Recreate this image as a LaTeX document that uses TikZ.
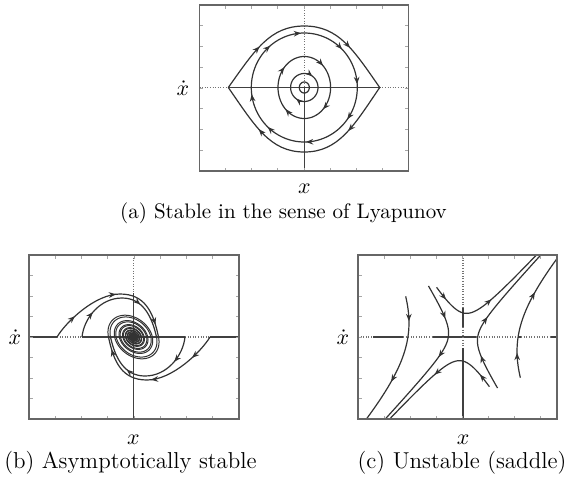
\documentclass[tikz,border=0pt]{standalone}
\usetikzlibrary{arrows.meta,decorations.markings}
\begin{document}
\begin{tikzpicture}[x=0.5pt,y=-0.5pt,
  traj/.style={draw=black!80, line width=0.6pt},
  spir/.style={draw=black!80, line width=0.5pt},
  frame/.style={draw=black!60, line width=0.8pt},
  tickmark/.style={draw=black!35, line width=0.4pt},
  axsolid/.style={draw=black!75, line width=0.6pt},
  axdot/.style={draw=black!55, line width=0.6pt, dash pattern=on 0.5pt off 0.8pt},
  arrat/.style={postaction={decorate, decoration={markings, mark=at position #1 with {\arrow{Stealth[length=3.6pt,width=2.8pt]}}}}},
  lbl/.style={inner sep=0pt, font=\fontsize{10.5}{12}\selectfont},
  capa/.style={inner sep=0pt, font=\fontsize{10.5}{12}\selectfont},
  capb/.style={inner sep=0pt, font=\fontsize{11.5}{13}\selectfont},
]
\useasboundingbox (0,0) rectangle (566,477);

% ================= panel (a) =================
\draw[axdot] (199.5,87.5) -- (228.3,87.5);
\draw[axsolid] (228.3,87.5) -- (379.7,87.5);
\draw[axdot] (379.7,87.5) -- (408.5,87.5);
\draw[axdot] (304.3,5) -- (304.3,87.5);
\draw[axsolid] (304.3,87.5) -- (304.3,171);

\draw[traj, arrat=0.125, arrat=0.375, arrat=0.625, arrat=0.875]
  (228.3,87.5) .. controls (255,50) and (270,26) .. (304.3,26)
  .. controls (338.6,26) and (353.6,50) .. (379.7,87.5)
  .. controls (353.6,126) and (338.6,152) .. (304.3,152)
  .. controls (270,152) and (255,126) .. (228.3,87.5);
\draw[traj, arrat=0.14, arrat=0.24, arrat=0.375, arrat=0.49, arrat=0.6, arrat=0.745, arrat=0.87, arrat=0.98]
  plot[domain=180:540, samples=121] ({304.3+53*cos(\x)},{87.5+54.5*sin(\x)});
\draw[traj, arrat=0.12, arrat=0.37, arrat=0.63, arrat=0.87]
  plot[domain=180:540, samples=91] ({304.3+26.3*cos(\x)},{87.5+31*sin(\x)});
\draw[traj, arrat=0.35, arrat=0.85]
  plot[domain=180:540, samples=61] ({304.3+13.7*cos(\x)},{87.5+14*sin(\x)});
\draw[traj]
  plot[domain=180:540, samples=41] ({304.3+5*cos(\x)},{87.5+5.5*sin(\x)});

\foreach \i in {1,...,7} {
  \draw[tickmark] ({199.5+\i*26.125},5) -- ++(0,3.5);
  \draw[tickmark] ({199.5+\i*26.125},171) -- ++(0,-3.5);
  \draw[tickmark] (199.5,{5+\i*20.75}) -- ++(3.5,0);
  \draw[tickmark] (408.5,{5+\i*20.75}) -- ++(-3.5,0);
}
\draw[frame] (199.5,5) rectangle (408.5,171);

\node[lbl] (ya) at (183,88) {$\dot{x}$};
\node[lbl] (xa) at (304.3,189) {$x$};
\node[capa] (capa) at (283.5,213) {(a) Stable in the sense of Lyapunov};

% ================= panel (b) =================
\draw[axsolid] (29,337) -- (57,337);
\draw[axdot] (57,337) -- (82,337);
\draw[axsolid] (82,337) -- (185,337);
\draw[axdot] (185,337) -- (210,337);
\draw[axsolid] (210,337) -- (239,337);
\draw[axdot] (133.5,255) -- (133.5,293);
\draw[axsolid] (133.5,293) -- (133.5,419);

% trajectories from the left
\draw[traj, arrat=0.35, arrat=0.95] (57,337) .. controls (66,322) and (95,294) .. (120,294);
\draw[traj, arrat=0.8] (120,294) .. controls (145,294) and (153.3,312) .. (158.5,337);
\draw[spir] plot[domain=3.1416:46, samples=800, variable=\t]
  ({133.5+25*exp(-0.09*(\t-3.1416))*(-cos(\t r)-0.3*sin(\t r))},{337-25*exp(-0.09*(\t-3.1416))*sin(\t r)});
\draw[traj, arrat=0.45] (82,337) .. controls (84,318) and (100,298) .. (122,298);
\draw[traj, arrat=0.35] (122,298) .. controls (142,298) and (151.7,315) .. (156.5,337);
\draw[spir] plot[domain=3.1416:46, samples=800, variable=\t]
  ({133.5+23*exp(-0.09*(\t-3.1416))*(-cos(\t r)-0.3*sin(\t r))},{337-23*exp(-0.09*(\t-3.1416))*sin(\t r)});
% trajectories from the right
\draw[traj, arrat=0.35, arrat=0.95] (210,337) .. controls (201,352) and (172,380) .. (147,380);
\draw[traj, arrat=0.8] (147,380) .. controls (122,380) and (113.7,362) .. (108.5,337);
\draw[spir] plot[domain=3.1416:46, samples=800, variable=\t]
  ({133.5+25*exp(-0.09*(\t-3.1416))*(cos(\t r)+0.3*sin(\t r))},{337+25*exp(-0.09*(\t-3.1416))*sin(\t r)});
\draw[traj, arrat=0.45] (185,337) .. controls (183,356) and (167,376) .. (145,376);
\draw[traj, arrat=0.35] (145,376) .. controls (125,376) and (115.3,359) .. (110.5,337);
\draw[spir] plot[domain=3.1416:46, samples=800, variable=\t]
  ({133.5+23*exp(-0.09*(\t-3.1416))*(cos(\t r)+0.3*sin(\t r))},{337+23*exp(-0.09*(\t-3.1416))*sin(\t r)});

\foreach \i in {1,...,7} {
  \draw[tickmark] ({29+\i*26.25},255) -- ++(0,3.5);
  \draw[tickmark] ({29+\i*26.25},419) -- ++(0,-3.5);
  \draw[tickmark] (29,{255+\i*20.5}) -- ++(3.5,0);
  \draw[tickmark] (239,{255+\i*20.5}) -- ++(-3.5,0);
}
\draw[frame] (29,255) rectangle (239,419);

\node[lbl] (yb) at (15,337) {$\dot{x}$};
\node[lbl] (xb) at (133.5,440) {$x$};
\node[capb] (capb) at (130.5,463) {(b) Asymptotically stable};

% ================= panel (c) =================
\draw[axdot] (358,337) -- (373,337);
\draw[axsolid] (373,337) -- (403,337);
\draw[axdot] (403,337) -- (433,337);
\draw[axsolid] (433,337) -- (476,337);
\draw[axdot] (476,337) -- (518,337);
\draw[axsolid] (518,337) -- (521,337);
\draw[axdot] (521,337) -- (551,337);
\draw[axsolid] (551,337) -- (557,337);
\draw[axdot] (463,255) -- (463,308);
\draw[axsolid] (463,308) -- (463,327);
\draw[axdot] (463,327) -- (463,348);
\draw[axsolid] (463,348) -- (463,419);

\begin{scope}
\clip (358,255) rectangle (557,419);
% top hyperbola and its mirror
\draw[traj, arrat=0.11, arrat=0.5] plot[domain=-1.3:2.05, samples=80, variable=\t]
  ({463+15*exp(\t)*0.68-15*exp(-(\t))*0.53},{337-15*exp(\t)*0.733-15*exp(-(\t))*0.848});
\draw[traj, arrat=0.11, arrat=0.5] plot[domain=-1.3:2.05, samples=80, variable=\t]
  ({463-15*exp(\t)*0.68+15*exp(-(\t))*0.53},{337+15*exp(\t)*0.733+15*exp(-(\t))*0.848});
% inner hyperbolas
\draw[traj, arrat=0.22, arrat=0.47] plot[domain=-1.645:2.3, samples=80, variable=\t]
  ({463+12*exp(\t)*0.68+12*exp(-(\t))*0.53},{337-12*exp(\t)*0.733+12*exp(-(\t))*0.848});
\draw[traj, arrat=0.22, arrat=0.47] plot[domain=-1.645:2.3, samples=80, variable=\t]
  ({463-12*exp(\t)*0.68-12*exp(-(\t))*0.53},{337+12*exp(\t)*0.733-12*exp(-(\t))*0.848});
% outer hyperbolas
\draw[traj, arrat=0.18, arrat=0.64] plot[domain=-0.473:1.1, samples=80, variable=\t]
  ({463+45*exp(\t)*0.68+45*exp(-(\t))*0.53},{337-45*exp(\t)*0.733+45*exp(-(\t))*0.848});
\draw[traj, arrat=0.18, arrat=0.64] plot[domain=-0.473:1.1, samples=80, variable=\t]
  ({463-45*exp(\t)*0.68-45*exp(-(\t))*0.53},{337+45*exp(\t)*0.733-45*exp(-(\t))*0.848});
\end{scope}

\foreach \i in {1,...,7} {
  \draw[tickmark] ({358+\i*26.1},255) -- ++(0,3.5);
  \draw[tickmark] ({358+\i*26.1},419) -- ++(0,-3.5);
  \draw[tickmark] (358,{255+\i*20.5}) -- ++(3.5,0);
}
\draw[frame] (358,255) rectangle (557,419);

\node[lbl] (yc) at (343,337) {$\dot{x}$};
\node[lbl] (xc) at (463,440) {$x$};
\node[capb] (capc) at (462,463) {(c) Unstable (saddle)};

\end{tikzpicture}
\end{document}
